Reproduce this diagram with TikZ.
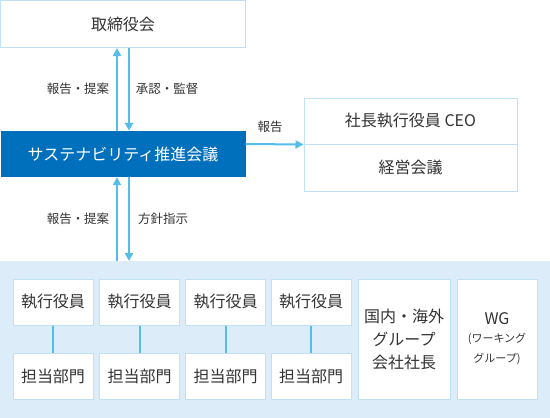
\documentclass[tikz,border=0pt]{standalone}
\usepackage{fontspec}
\setmainfont{Noto Sans CJK JP}
\usetikzlibrary{arrows.meta}
\definecolor{ink}{HTML}{333333}
\definecolor{deepblue}{HTML}{0070BD}
\definecolor{skyline}{HTML}{55BDEB}
\definecolor{paleline}{HTML}{BFE1F6}
\definecolor{panelfill}{HTML}{DCECF8}
\begin{document}
\begin{tikzpicture}[x=1pt, y=-1pt,
    box/.style={rectangle, draw=paleline, fill=white, line width=1pt, text=ink, font=\fontsize{16}{20}\selectfont, align=center, inner sep=0pt},
    council/.style={rectangle, fill=deepblue, text=white, font=\fontsize{16}{20}\selectfont, inner sep=0pt, minimum width=245pt, minimum height=46pt},
    lbl/.style={text=ink, font=\fontsize{12.5}{15}\selectfont, inner sep=0pt},
    arr/.style={draw=skyline, line width=2pt, -{Triangle[length=8pt, width=8pt]}},
    link/.style={draw=skyline, line width=2pt}]
    \useasboundingbox (0,0) rectangle (550,418);
    \fill[panelfill] (0,261) rectangle (550,418);

    \node[box, minimum width=245pt, minimum height=47pt] (board) at (123,24) {取締役会};
    \node[council] (suscouncil) at (123,154) {サステナビリティ推進会議};
    \node[box, minimum width=213pt, minimum height=46pt] (ceo) at (410.5,121) {社長執行役員 CEO};
    \node[box, minimum width=213pt, minimum height=47pt] (mgmt) at (410.5,167.5) {経営会議};
    \coordinate (panel) at (275,261);

    \node[box, minimum width=80pt, minimum height=46pt] (exec1) at (53,302) {執行役員};
    \node[box, minimum width=80pt, minimum height=46pt] (exec2) at (139.5,302) {執行役員};
    \node[box, minimum width=80pt, minimum height=46pt] (exec3) at (225.5,302) {執行役員};
    \node[box, minimum width=80pt, minimum height=46pt] (exec4) at (311,302) {執行役員};
    \node[box, minimum width=80pt, minimum height=46pt] (dept1) at (53,376) {担当部門};
    \node[box, minimum width=80pt, minimum height=46pt] (dept2) at (139.5,376) {担当部門};
    \node[box, minimum width=80pt, minimum height=46pt] (dept3) at (225.5,376) {担当部門};
    \node[box, minimum width=80pt, minimum height=46pt] (dept4) at (311,376) {担当部門};
    \node[box, minimum width=92pt, minimum height=120pt, font=\fontsize{16}{23}\selectfont] (group) at (404,339) {国内・海外\\グループ\\会社社長};
    \node[box, minimum width=80pt, minimum height=120pt] (wg) at (497,339) {WG\\[-2pt]{\fontsize{11}{14}\selectfont (ワーキング}\\{\fontsize{11}{14}\selectfont グループ)}};

    \draw[arr] ([xshift=-6pt]suscouncil.north) -- ([xshift=-6pt]board.south);
    \draw[arr] ([xshift=6pt]board.south) -- ([xshift=6pt]suscouncil.north);
    \draw[arr] ([yshift=10pt]suscouncil.east) -- (ceo.south west);
    \draw[arr] ([xshift=-6pt]suscouncil.south |- panel) -- ([xshift=-6pt]suscouncil.south);
    \draw[arr] ([xshift=6pt]suscouncil.south) -- ([xshift=6pt]suscouncil.south |- panel);

    \draw[link] (exec1) -- (dept1);
    \draw[link] (exec2) -- (dept2);
    \draw[link] (exec3) -- (dept3);
    \draw[link] (exec4) -- (dept4);

    \node[lbl] (up1) at (78,89) {報告・提案};
    \node[lbl] (down1) at (167,89) {承認・監督};
    \node[lbl] (rep) at (270,127) {報告};
    \node[lbl] (up2) at (78,219) {報告・提案};
    \node[lbl] (down2) at (163,219) {方針指示};
\end{tikzpicture}
\end{document}
